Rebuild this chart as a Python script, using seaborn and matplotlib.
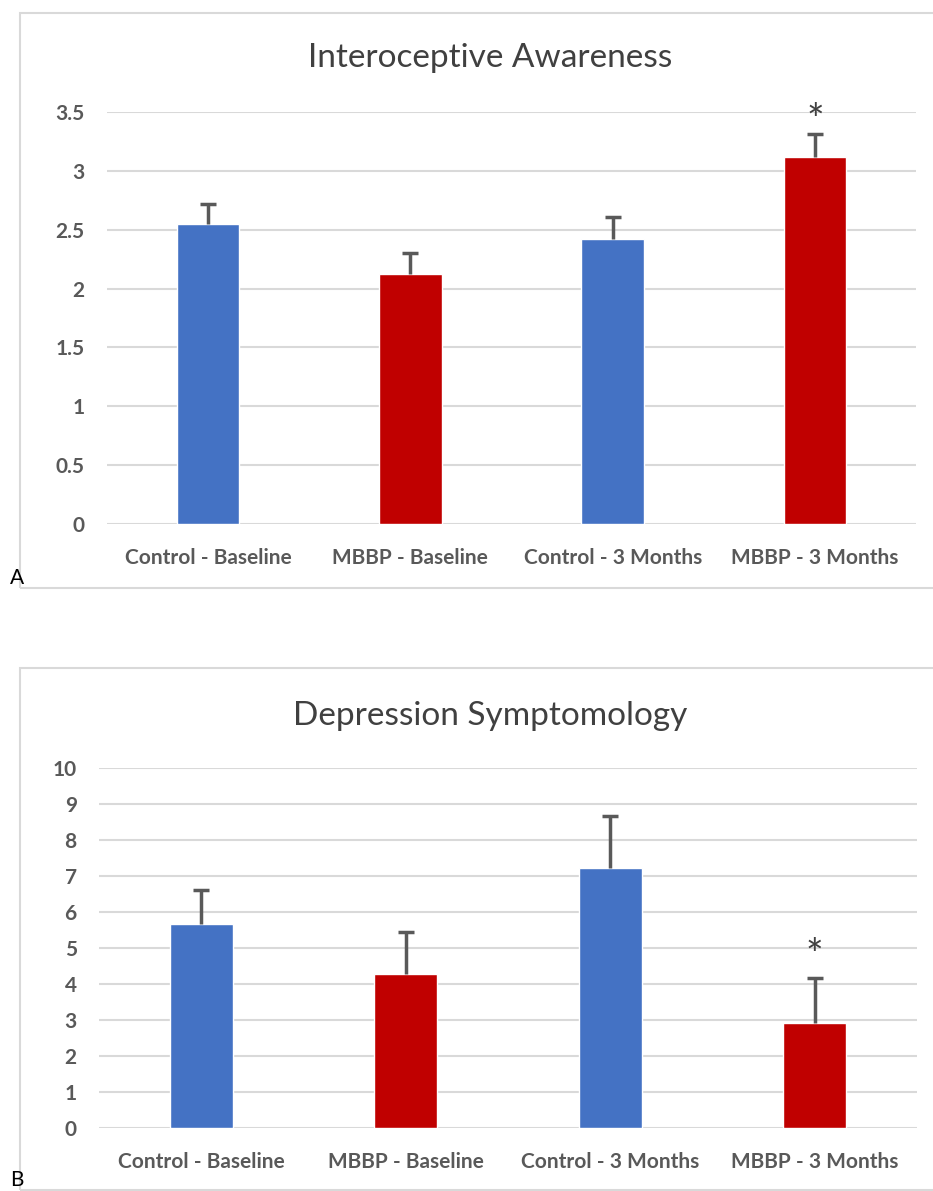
import seaborn as sns
import pandas as pd
import matplotlib.pyplot as plt
from matplotlib.patches import Rectangle

sns.set_style("white")
plt.rcParams['font.family'] = ['Lato', 'DejaVu Sans']

groups = ['Control - Baseline', 'MBBP - Baseline', 'Control - 3 Months', 'MBBP - 3 Months']
ia_mean = [2.55, 2.12, 2.42, 3.12]
ia_err = [0.17, 0.18, 0.19, 0.19]
dep_mean = [5.67, 4.28, 7.22, 2.92]
dep_err = [0.95, 1.16, 1.45, 1.26]
sig = [False, False, False, True]

Color = ["#4472C4", "#C00000", "#4472C4", "#C00000"]
txt = '#595959'
grid = '#D9D9D9'

fig = plt.figure(figsize=(9.33, 11.91), dpi=100)

# panel frames
fig.patches.append(Rectangle((20/933, 1-588/1191), 1.0, 575/1191, transform=fig.transFigure,
                             fill=False, edgecolor=grid, lw=1.5))
fig.patches.append(Rectangle((20/933, 1-1190/1191), 1.0, 522/1191, transform=fig.transFigure,
                             fill=False, edgecolor=grid, lw=1.5))

panels = [
    dict(title='Interoceptive Awareness', mean=ia_mean, err=ia_err, ymax=3.5, step=0.5,
         pos=[107/933, 1-524/1191, 809/933, 412/1191], ty=58, lab='A', ly=578, off=-5),
    dict(title='Depression Symptomology', mean=dep_mean, err=dep_err, ymax=10, step=1,
         pos=[99/933, 1-1128/1191, 818/933, 360/1191], ty=716, lab='B', ly=1180, off=1),
]

for p in panels:
    ax = fig.add_axes(p['pos'])
    df = pd.DataFrame({'group': groups, 'value': p['mean']})
    sns.barplot(data=df, x='group', y='value', hue='group', palette=Color, legend=False,
                width=0.31, saturation=1, ax=ax, zorder=3)
    eb = ax.errorbar(x=range(len(groups)), y=p['mean'], yerr=[[0]*len(groups), p['err']], fmt='none',
                     ecolor=txt, elinewidth=2.5, capsize=6, capthick=2.5, zorder=4)
    eb[1][0].set_visible(False)  # only the upper cap
    for i in range(len(groups)):
        if sig[i]:
            ax.annotate('*', (i, p['mean'][i] + p['err'][i]), xytext=(0, p['off']),
                        textcoords='offset points', ha='center', va='bottom',
                        fontsize=30, color='#404040')
    ax.set_xlim(-0.5, len(groups) - 0.5)
    ax.set_ylim(0, p['ymax'])
    ticks = [round(k*p['step'], 1) for k in range(int(p['ymax']/p['step'])+1)]
    ax.set_yticks(ticks)
    ax.set_yticklabels(['%g' % t for t in ticks])
    ax.yaxis.grid(True, color=grid, lw=1.5, zorder=0)
    ax.set_axisbelow(True)
    sns.despine(ax=ax, left=True, bottom=True)
    ax.tick_params(axis='both', length=0, labelcolor=txt, labelsize=15)
    ax.tick_params(axis='x', pad=17)
    ax.tick_params(axis='y', pad=16)
    for t in ax.get_xticklabels() + ax.get_yticklabels():
        t.set_fontweight('bold')
    ax.set_xlabel('')
    ax.set_ylabel('')
    fig.text(490/933, 1-p['ty']/1191, p['title'], ha='center', va='center', fontsize=24, color='#404040')
    fig.text(10/933, 1-p['ly']/1191, p['lab'], ha='left', va='center', fontsize=15, color='black')

plt.savefig('out.png', dpi=100)
